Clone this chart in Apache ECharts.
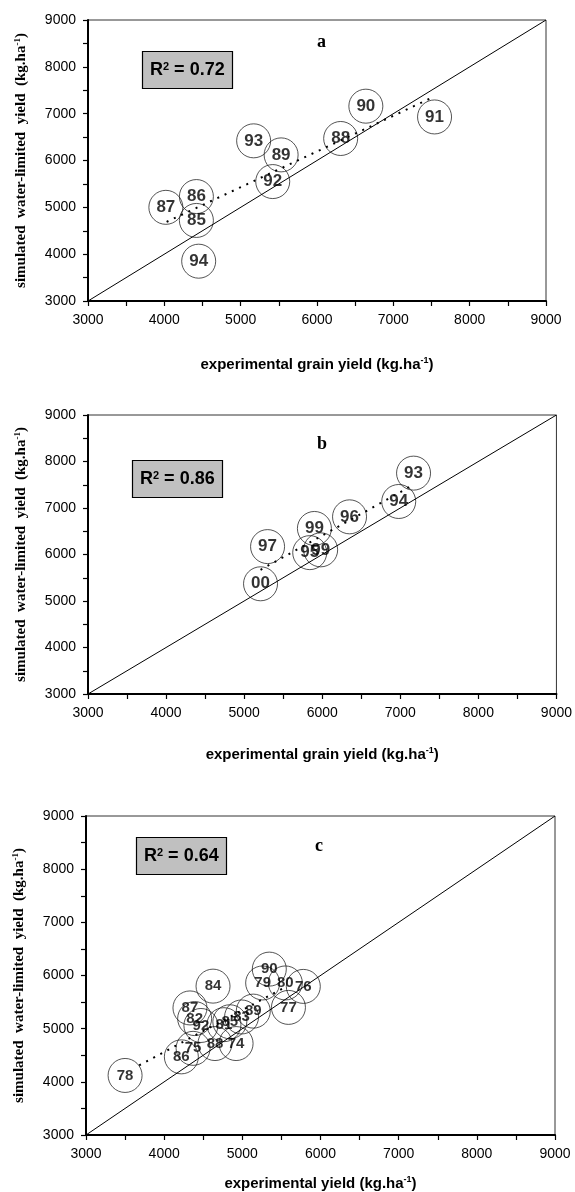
<!DOCTYPE html>
<html>
<head>
<meta charset="utf-8">
<script src="https://cdn.jsdelivr.net/npm/echarts@6/dist/echarts.min.js"></script>
<style>
html, body { margin: 0; padding: 0; background: #fff; }
#chart { width: 575px; height: 1192px; }
</style>
</head>
<body>
<div id="chart"></div>
<script>
// panel a
var aYear = ['87', '86', '85', '94', '93', '89', '92', '88', '90', '91'];
var aExp  = [4020, 4420, 4420, 4450, 5170, 5530, 5420, 6310, 6640, 7540];
var aSim  = [5000, 5230, 4720, 3850, 6420, 6120, 5550, 6470, 7160, 6930];
var aTrend = [[4030, 4690], [7530, 7360]];

// panel b
var bYear = ['00', '97', '95', '99', '99', '96', '94', '93'];
var bExp  = [5210, 5300, 5840, 5980, 5900, 6350, 6980, 7170];
var bSim  = [5370, 6170, 6040, 6100, 6560, 6810, 7140, 7750];
var bTrend = [[5210, 5670], [7170, 7500]];

// panel c
var cYear = ['78', '86', '75', '88', '74', '87', '82', '92', '81', '85', '83', '89', '84', '77', '79', '80', '76', '90'];
var cExp  = [3500, 4220, 4370, 4650, 4920, 4330, 4390, 4470, 4765, 4840, 4990, 5140, 4625, 5590, 5260, 5550, 5780, 5345];
var cSim  = [4120, 4470, 4630, 4720, 4720, 5390, 5190, 5060, 5075, 5130, 5220, 5330, 5800, 5400, 5860, 5860, 5795, 6120];
var cTrend = [[3680, 4310], [5510, 5750]];

var oneToOne = [[3000, 3000], [9000, 9000]];
var r2 = ['0.72', '0.86', '0.64'];
var panelName = ['a', 'b', 'c'];

var chart = echarts.init(document.getElementById('chart'));

// grids in pixels
var grids = [
    {left: 88, top: 20, width: 458, height: 281},
    {left: 88, top: 415, width: 469, height: 279},
    {left: 86, top: 816, width: 469, height: 321}
];

var yTitle = '{b|simulated  water-limited  yield  (kg.ha}{s|-1}{b|)}';
var xTitles = [
    '{b|experimental grain yield (kg.ha}{s|-1}{b|)}',
    '{b|experimental grain yield (kg.ha}{s|-1}{b|)}',
    '{b|experimental yield (kg.ha}{s|-1}{b|)}'
];
var xGaps = [55, 52, 40];

function xAxisFor(i) {
    return {
        gridIndex: i, type: 'value', min: 3000, max: 9000, interval: 500,
        axisLine: {onZero: false, lineStyle: {color: '#000', width: 2}},
        axisTick: {length: 5, lineStyle: {color: '#000', width: 1.2}},
        axisLabel: {
            color: '#000', fontSize: 14, fontFamily: 'Liberation Sans', margin: 12,
            formatter: function (v) { return v % 1000 === 0 ? v : ''; }
        },
        splitLine: {show: false},
        name: xTitles[i], nameLocation: 'middle', nameGap: xGaps[i],
        nameTextStyle: {
            rich: {
                b: {fontFamily: 'Liberation Sans', fontWeight: 'bold', fontSize: 15, color: '#000'},
                s: {fontFamily: 'Liberation Sans', fontWeight: 'bold', fontSize: 9, color: '#000', verticalAlign: 'top', padding: [0, 0, 8, 0]}
            }
        }
    };
}

function yAxisFor(i) {
    return {
        gridIndex: i, type: 'value', min: 3000, max: 9000, interval: 500,
        axisLine: {onZero: false, lineStyle: {color: '#000', width: 2}},
        axisTick: {length: 5, lineStyle: {color: '#000', width: 1.2}},
        axisLabel: {
            color: '#000', fontSize: 14, fontFamily: 'Liberation Sans', margin: 12,
            formatter: function (v) { return v % 1000 === 0 ? v : ''; }
        },
        splitLine: {show: false},
        name: yTitle, nameLocation: 'middle', nameGap: 58, nameRotate: 90,
        nameTextStyle: {
            rich: {
                b: {fontFamily: 'Liberation Serif', fontWeight: 'bold', fontSize: 15, color: '#000'},
                s: {fontFamily: 'Liberation Serif', fontWeight: 'bold', fontSize: 9, color: '#000', verticalAlign: 'top', padding: [0, 0, 8, 0]}
            }
        }
    };
}

function points(xs, ys, names) {
    return xs.map(function (x, k) { return [x, ys[k], names[k]]; });
}

var panels = [
    {data: points(aExp, aSim, aYear), trend: aTrend, fs: 17},
    {data: points(bExp, bSim, bYear), trend: bTrend, fs: 17},
    {data: points(cExp, cSim, cYear), trend: cTrend, fs: 15}
];

var series = [];
panels.forEach(function (p, i) {
    // 1:1 line
    series.push({
        type: 'line', xAxisIndex: i, yAxisIndex: i, data: oneToOne,
        symbol: 'none', silent: true,
        lineStyle: {color: '#000', width: 1}
    });
    // regression
    series.push({
        type: 'line', xAxisIndex: i, yAxisIndex: i, data: p.trend,
        symbol: 'none', silent: true,
        lineStyle: {color: '#000', width: 2, type: [2, 6]}
    });
    // labelled circles
    series.push({
        type: 'scatter', xAxisIndex: i, yAxisIndex: i, data: p.data,
        symbol: 'circle', symbolSize: 34,
        itemStyle: {color: 'rgba(0,0,0,0)', borderColor: '#111', borderWidth: 0.9},
        label: {
            show: true, position: 'inside', color: '#000',
            fontFamily: 'Liberation Sans', fontWeight: 'bold', fontSize: p.fs,
            formatter: function (q) { return q.data[2]; }
        }
    });
});

var titleTops = [28, 430, 832];
var boxPos = [[142, 51], [132, 460], [136, 837]];
var titles = [];
panelName.forEach(function (n, i) {
    titles.push({
        text: n, left: grids[i].left + 224, top: titleTops[i],
        textStyle: {fontFamily: 'Liberation Serif', fontWeight: 'bold', fontSize: 18, color: '#000'}
    });
    titles.push({
        text: '{r|R}{s|2}{r| = ' + r2[i] + '}',
        left: boxPos[i][0], top: boxPos[i][1],
        backgroundColor: '#c0c0c0', borderColor: '#000', borderWidth: 1.2,
        padding: [10, 8, 9, 8],
        textStyle: {
            rich: {
                r: {fontFamily: 'Liberation Sans', fontWeight: 'bold', fontSize: 18, color: '#000'},
                s: {fontFamily: 'Liberation Sans', fontWeight: 'bold', fontSize: 11, color: '#000', verticalAlign: 'top', padding: [0, 0, 8, 0]}
            }
        }
    });
});

var option = {
    animation: false,
    backgroundColor: '#fff',
    title: titles,
    grid: grids.map(function (g) {
        return {left: g.left, top: g.top, width: g.width, height: g.height,
                show: true, borderColor: '#333', borderWidth: 1, backgroundColor: 'transparent'};
    }),
    xAxis: [0, 1, 2].map(xAxisFor),
    yAxis: [0, 1, 2].map(yAxisFor),
    series: series
};

chart.setOption(option);
</script>
</body>
</html>
